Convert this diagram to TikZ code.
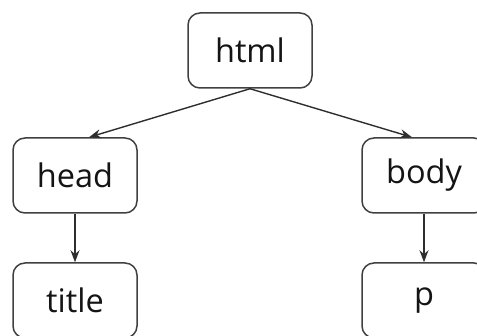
\documentclass[tikz,border=0pt]{standalone}
\usepackage{fontspec}
\setmainfont{Open Sans}
\usetikzlibrary{arrows.meta}
\begin{document}
\begin{tikzpicture}[x=1pt,y=-1pt,
  tagbox/.style={draw=black!75, line width=1.5pt, rounded corners=12pt, fill=white,
    minimum width=124pt, minimum height=75pt, inner sep=0pt, text=black!92,
    font=\fontsize{32.5}{38}\selectfont},
  link/.style={draw=black!82, line width=1.4pt, -{Stealth[length=12pt,width=9pt]}}]
\useasboundingbox (0,0) rectangle (477,336);
\clip (0,0) rectangle (477,336);
\node[tagbox] (html) at (250,50.5) {html};
\node[tagbox] (head) at (75,175.5) {head};
\node[tagbox] (body) at (424,175.5) {body};
\node[tagbox] (title) at (75,300.5) {title};
\node[tagbox] (p) at (424,300.5) {p};
\draw[link] (html.south) -- ([xshift=14pt]head.north);
\draw[link] (html.south) -- ([xshift=-12pt]body.north);
\draw[link] (head.south) -- (title.north);
\draw[link] (body.south) -- (p.north);
\end{tikzpicture}
\end{document}
